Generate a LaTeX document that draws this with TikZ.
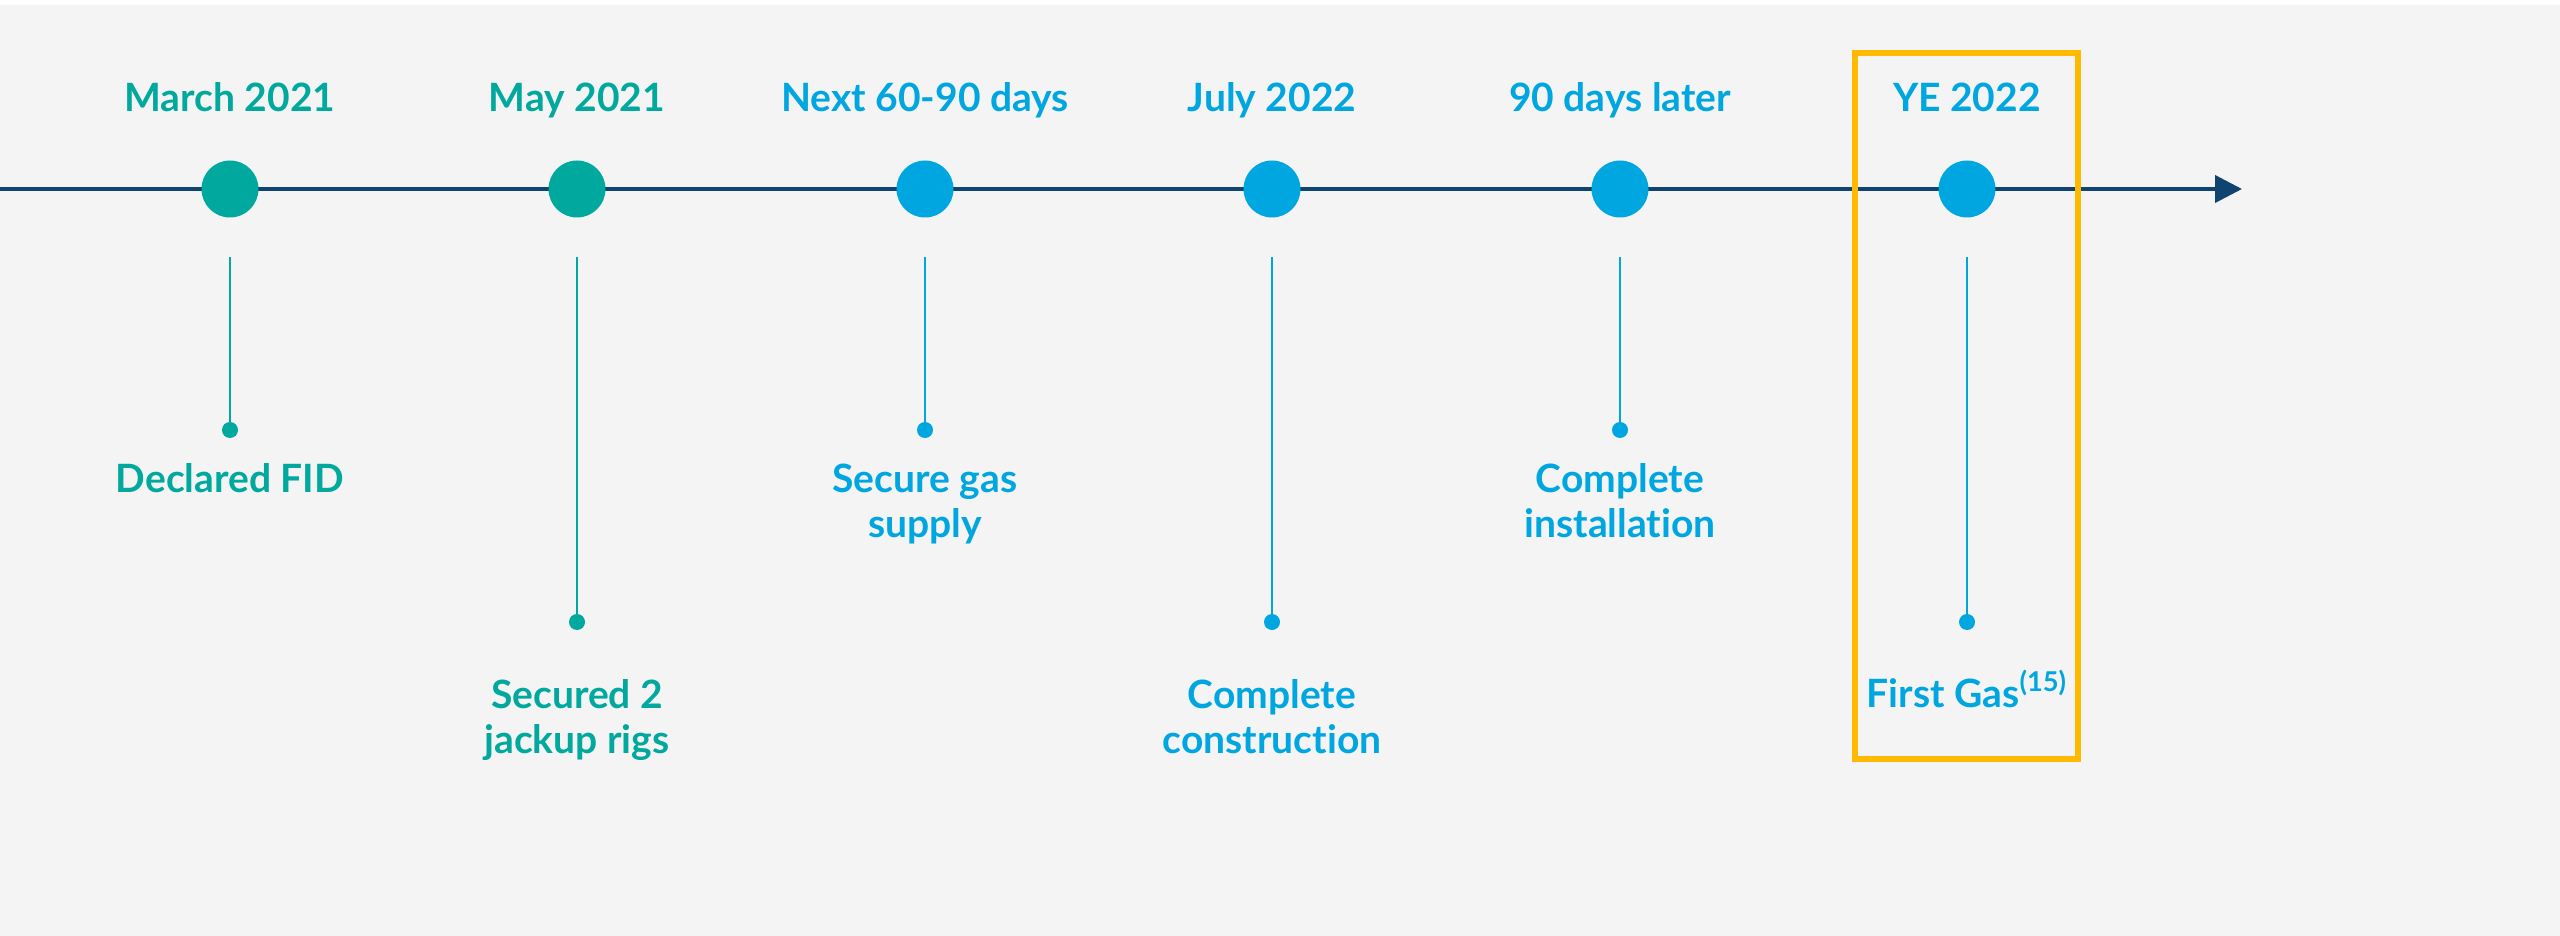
\documentclass[tikz,border=0pt]{standalone}
\usepackage{fontspec}
\setmainfont{Lato}[Ligatures=NoCommon]
\usetikzlibrary{arrows.meta}

\definecolor{bgcol}{HTML}{F4F4F4}
\definecolor{tealc}{HTML}{00A89D}
\definecolor{skyc}{HTML}{00A6DF}
\definecolor{navyc}{HTML}{0F4470}
\definecolor{goldc}{HTML}{FFBA00}

\tikzset{
  milestone/.style={circle, fill=#1, minimum size=28.5pt, inner sep=0pt},
  enddot/.style={circle, fill=#1, minimum size=8pt, inner sep=0pt},
  stem/.style={draw=#1, line width=1.25pt},
  datelbl/.style={text=#1, anchor=base, font=\fontsize{19.5}{22.5}\selectfont\bfseries, inner sep=0pt},
  desclbl/.style={text=#1, anchor=base, align=center, font=\fontsize{19.5}{22.5}\selectfont\bfseries, inner sep=0pt},
  axis/.style={draw=navyc, line width=2pt, -{Triangle[length=13.5pt,width=13.5pt]}},
  highlight/.style={draw=goldc, line width=3pt},
}

\begin{document}
\begin{tikzpicture}[x=0.5pt,y=-0.5pt]
  % canvas
  \fill[white] (0,0) rectangle (2560,936);
  \fill[bgcol] (0,5) rectangle (2560,936);
  \useasboundingbox (0,0) rectangle (2560,936);

  % time axis
  \coordinate (axstart) at (0,189);
  \coordinate (axend) at (2242,189);
  \draw[axis] (axstart) -- (axend);

  % milestones: index / x / colour / date / description / end-dot y / baseline of last description line
  \foreach \i/\x/\c/\dt/\desc/\dy/\by in {
      1/230/tealc/{March 2021}/{Declared FID}/430/492,
      2/577/tealc/{May 2021}/{Secured 2\\jackup rigs}/622/753,
      3/925/skyc/{Next 60-90 days}/{Secure gas\\supply}/430/537,
      4/1272/skyc/{July 2022}/{Complete\\construction}/622/753,
      5/1620/skyc/{90 days later}/{Complete\\installation}/430/537,
      6/1967/skyc/{YE 2022}/{First Gas\textsuperscript{(15)}}/622/707} {
    \node[milestone=\c] (m\i) at (\x,189) {};
    \node[datelbl=\c] (d\i) at (\x,112) {\dt};
    \coordinate (s\i) at (\x,257);
    \node[enddot=\c] (e\i) at (\x,\dy) {};
    \draw[stem=\c] (s\i) -- (e\i.center);
    \node[desclbl=\c] (t\i) at (\x,\by) {\desc};
  }

  % highlight frame around the last milestone
  \draw[highlight] (1855,53.5) rectangle (2078,759);
\end{tikzpicture}
\end{document}
